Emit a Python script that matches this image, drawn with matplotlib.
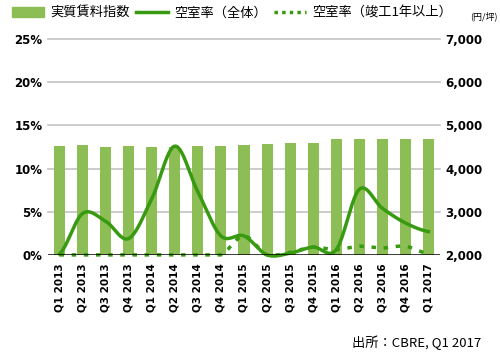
import numpy as np
import matplotlib.pyplot as plt
from matplotlib.lines import Line2D
from matplotlib.patches import Patch

plt.rcParams['font.family'] = ['DejaVu Sans', 'Noto Sans CJK JP']

quarters = ['Q1 2013', 'Q2 2013', 'Q3 2013', 'Q4 2013', 'Q1 2014', 'Q2 2014',
            'Q3 2014', 'Q4 2014', 'Q1 2015', 'Q2 2015', 'Q3 2015', 'Q4 2015',
            'Q1 2016', 'Q2 2016', 'Q3 2016', 'Q4 2016', 'Q1 2017']
# real rent index (yen / tsubo)
rent = [4530, 4555, 4510, 4530, 4510, 4510, 4530, 4530, 4555, 4580, 4600,
        4600, 4690, 4690, 4690, 4690, 4690]
# vacancy rate, all buildings (%)
vacancy_all = [0.1, 4.8, 3.9, 1.9, 6.5, 12.6, 7.3, 2.2, 2.2, 0.0, 0.2, 0.9,
               0.6, 7.6, 5.4, 3.7, 2.7]
# vacancy rate, buildings completed 1+ year ago (%)
vacancy_old = [0.0, 0.0, 0.0, 0.0, 0.0, 0.0, 0.0, 0.0, 2.2, 0.0, 0.3, 0.9,
               0.6, 1.0, 0.8, 1.0, 0.1]

bar_color = '#8dbd55'
line_color = '#389a10'


def smooth(y, n=20):
    # catmull-rom curve through the points, just for drawing
    y = np.asarray(y, dtype=float)
    p = np.concatenate([[y[0]], y, [y[-1]]])
    xs, ys = [], []
    for i in range(len(y) - 1):
        t = np.linspace(0, 1, n, endpoint=False)
        p0, p1, p2, p3 = p[i], p[i + 1], p[i + 2], p[i + 3]
        v = 0.5 * ((2 * p1) + (-p0 + p2) * t + (2 * p0 - 5 * p1 + 4 * p2 - p3) * t ** 2
                   + (-p0 + 3 * p1 - 3 * p2 + p3) * t ** 3)
        xs.extend(i + t)
        ys.extend(v)
    xs.append(len(y) - 1)
    ys.append(y[-1])
    return np.array(xs), np.array(ys)


fig = plt.figure(figsize=(5, 3.56), dpi=100)
ax = fig.add_axes([0.096, 0.284, 0.784, 0.606])
ax2 = ax.twinx()

x = np.arange(len(quarters))

# bars go on the right axis but must sit behind the lines
ax.set_zorder(2)
ax.patch.set_visible(False)
ax2.set_zorder(1)

ax2.bar(x, rent, width=0.48, color=bar_color, zorder=2)
ax2.set_ylim(2000, 7000)
ax2.set_yticks([2000, 3000, 4000, 5000, 6000, 7000])
ax2.set_yticklabels(['2,000', '3,000', '4,000', '5,000', '6,000', '7,000'],
                    fontweight='bold')

ax.set_ylim(0, 25)
ax.set_xlim(-0.5, len(quarters) - 0.5)
ax.set_yticks([0, 5, 10, 15, 20, 25])
ax.set_yticklabels(['0%', '5%', '10%', '15%', '20%', '25%'], fontweight='bold')
for v in [5, 10, 15, 20, 25]:
    ax2.axhline(2000 + v * 200, color='#c4c4c4', lw=1.2, zorder=0, clip_on=False)

sx, sy = smooth(vacancy_all)
ax.plot(sx, sy, color=line_color, lw=2.5, zorder=3, clip_on=False)
ox, oy = smooth(vacancy_old)
ax.plot(ox, np.clip(oy, 0, None), color=line_color, lw=2.5, ls=(0, (1.3, 2.2)),
        zorder=3, clip_on=False)
ax.axhline(0, color='black', lw=1.8, zorder=4)

ax.set_xticks(x)
ax.set_xticklabels(quarters, rotation=90, fontweight='bold')
for a in (ax, ax2):
    for s in a.spines.values():
        s.set_visible(False)
    a.tick_params(length=0, labelsize=8.5, pad=4)
ax.tick_params(axis='x', labelsize=7.5, pad=6)

handles = [Patch(color=bar_color), Line2D([], [], color=line_color, lw=2.5),
           Line2D([], [], color=line_color, lw=2.5, ls=(0, (1, 1.2)))]
labels = ['実質賃料指数', '空室率（全体）', '空室率（竣工1年以上）']
fig.legend(handles, labels, loc='upper left', bbox_to_anchor=(0.0, 1.015), ncol=3,
           frameon=False, handlelength=2.4, handletextpad=0.5,
           columnspacing=0.5, prop={'family': ['Noto Sans CJK JP'], 'size': 9.5})
fig.text(0.94, 0.955, '(円/坪)', fontsize=6.5, family=['Noto Sans CJK JP'], va='center')
fig.text(0.962, 0.025, '出所：CBRE, Q1 2017', fontsize=9.5, ha='right',
         family=['Noto Sans CJK JP'])

fig.savefig('out.png', dpi=100)
